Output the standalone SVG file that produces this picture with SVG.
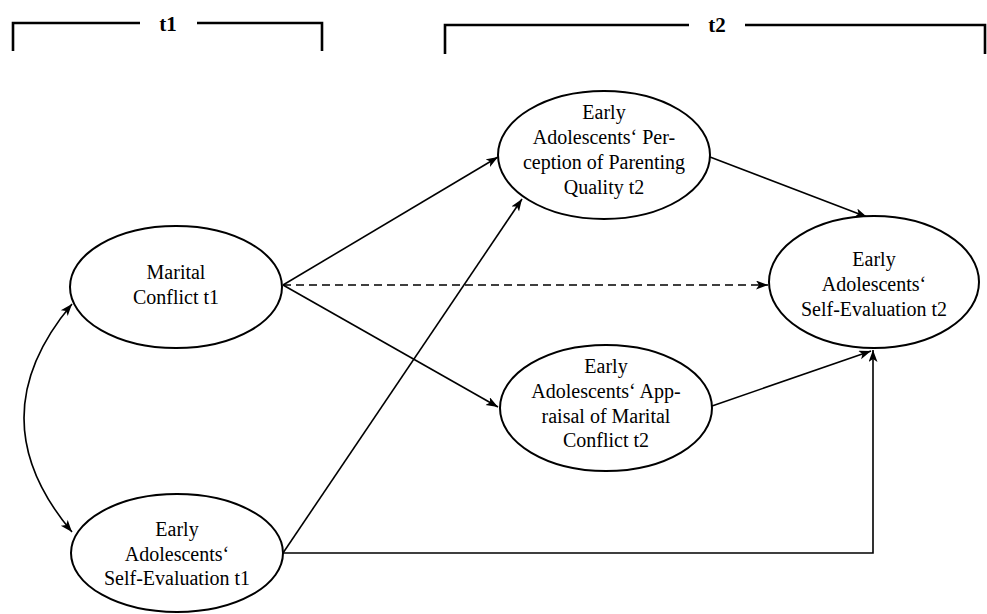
<svg xmlns="http://www.w3.org/2000/svg" width="987" height="614" viewBox="0 0 987 614">
<style>
.bg{fill:#ffffff}
.node ellipse{fill:#ffffff;stroke:#000;stroke-width:2}
.lbl{font-family:"Liberation Serif","Times New Roman",serif;font-size:20px;fill:#000;text-anchor:middle}
.hdr{font-family:"Liberation Serif","Times New Roman",serif;font-size:21px;font-weight:bold;fill:#000;text-anchor:middle}
.brk{fill:none;stroke:#000;stroke-width:2.6}
.edge{fill:none;stroke:#000;stroke-width:1.6;marker-end:url(#ah)}
.dash{stroke-dasharray:8 5}
</style>
<defs>
<marker id="ah" markerUnits="userSpaceOnUse" markerWidth="14" markerHeight="10" refX="12" refY="4.5" orient="auto">
<path d="M0,0 L12,4.5 L0,9 L3,4.5 Z" fill="#000"/>
</marker>
<marker id="ahs" markerUnits="userSpaceOnUse" markerWidth="14" markerHeight="10" refX="0" refY="4.5" orient="auto">
<path d="M12,0 L0,4.5 L12,9 L9,4.5 Z" fill="#000"/>
</marker>
</defs>
<rect class="bg" x="0" y="0" width="987" height="614"/>
<g id="brackets">
<path class="brk" d="M13,51 L13,23 L140,23 M197,23 L322,23 L322,51"/>
<text class="hdr" x="168" y="31">t1</text>
<path class="brk" d="M445,54 L445,25 L689,25 M745,25 L985,25 L985,54"/>
<text class="hdr" x="717" y="32">t2</text>
</g>
<g id="connectors">
<path class="edge" d="M283,285 L498,157"/>
<path class="edge dash" d="M283,285 L768,285"/>
<path class="edge" d="M283,285 L498,407"/>
<path class="edge" d="M283,553 L522,199"/>
<path class="edge" d="M283,553 L873,553 L873,350"/>
<path class="edge" d="M710,157 L867,217"/>
<path class="edge" d="M712,406 L871,351"/>
<path class="edge" style="marker-start:url(#ahs)" d="M72,304 Q-24,418 72,532"/>
</g>
<g id="marital_t1" class="node">
<ellipse cx="176" cy="287" rx="106" ry="61"/>
<text class="lbl" x="176" y="279">Marital</text>
<text class="lbl" x="176" y="304">Conflict t1</text>
</g>
<g id="selfeval_t1" class="node">
<ellipse cx="177" cy="553" rx="106" ry="59"/>
<text class="lbl" x="177" y="536">Early</text>
<text class="lbl" x="177" y="561">Adolescents‘</text>
<text class="lbl" x="177" y="585">Self-Evaluation t1</text>
</g>
<g id="parenting_t2" class="node">
<ellipse cx="604" cy="155" rx="106" ry="64"/>
<text class="lbl" x="604" y="119">Early</text>
<text class="lbl" x="604" y="144">Adolescents‘ Per-</text>
<text class="lbl" x="604" y="169">ception of Parenting</text>
<text class="lbl" x="604" y="194">Quality t2</text>
</g>
<g id="appraisal_t2" class="node">
<ellipse cx="606" cy="408" rx="106" ry="63"/>
<text class="lbl" x="606" y="373">Early</text>
<text class="lbl" x="606" y="398">Adolescents‘ App-</text>
<text class="lbl" x="606" y="423">raisal of Marital</text>
<text class="lbl" x="606" y="447">Conflict t2</text>
</g>
<g id="selfeval_t2" class="node">
<ellipse cx="874" cy="282" rx="105" ry="66"/>
<text class="lbl" x="874" y="266">Early</text>
<text class="lbl" x="874" y="291">Adolescents‘</text>
<text class="lbl" x="874" y="316">Self-Evaluation t2</text>
</g>
</svg>
